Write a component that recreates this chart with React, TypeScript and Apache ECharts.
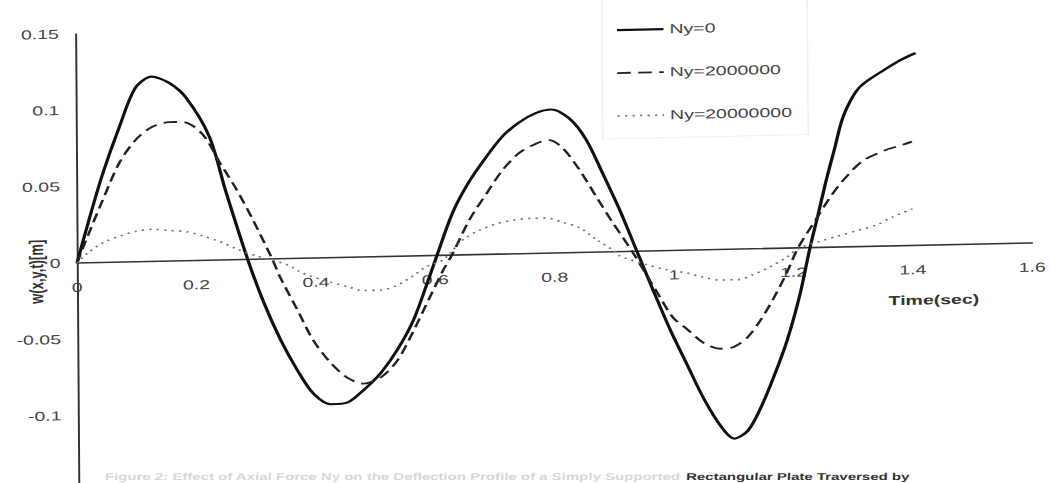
import React, { useEffect, useRef } from "react";
import * as echarts from "echarts";

// Deflection w(x,y,t) at the plate centre versus time for three axial forces Ny
const timeNy0 = [
  0, 0.022, 0.044, 0.072, 0.1, 0.127, 0.155, 0.184, 0.223, 0.25, 0.286, 0.312, 0.34, 0.369,
  0.395, 0.424, 0.452, 0.479, 0.508, 0.536, 0.563, 0.591, 0.603, 0.63, 0.658, 0.687, 0.714,
  0.742, 0.771, 0.796, 0.826, 0.854, 0.881, 0.91, 0.938, 0.965, 0.993, 1.022, 1.049, 1.077,
  1.099, 1.122, 1.144, 1.166, 1.189, 1.211, 1.228, 1.241, 1.256, 1.27, 1.283, 1.298, 1.312,
  1.328, 1.357, 1.384, 1.407,
];
const deflectionNy0 = [
  0, 0.03, 0.058, 0.088, 0.114, 0.121, 0.117, 0.107, 0.081, 0.045, 0, -0.028, -0.053, -0.074,
  -0.089, -0.096, -0.095, -0.087, -0.076, -0.061, -0.042, -0.013, 0, 0.028, 0.048, 0.064, 0.077,
  0.086, 0.092, 0.094, 0.088, 0.074, 0.052, 0.027, 0, -0.026, -0.052, -0.076, -0.098, -0.116,
  -0.124, -0.119, -0.104, -0.084, -0.06, -0.03, 0, 0.02, 0.044, 0.064, 0.083, 0.096, 0.104,
  0.109, 0.116, 0.122, 0.126,
];

const timeNy2e6 = [
  0, 0.022, 0.044, 0.072, 0.1, 0.127, 0.156, 0.178, 0.211, 0.24, 0.268, 0.295, 0.327, 0.34,
  0.369, 0.395, 0.424, 0.452, 0.479, 0.508, 0.536, 0.563, 0.591, 0.613, 0.628, 0.658, 0.687,
  0.714, 0.742, 0.771, 0.792, 0.814, 0.843, 0.871, 0.898, 0.93, 0.977, 0.998, 1.022, 1.049,
  1.077, 1.099, 1.122, 1.144, 1.166, 1.189, 1.208, 1.241, 1.261, 1.283, 1.317, 1.357, 1.384, 1.4,
];
const deflectionNy2e6 = [
  0, 0.021, 0.041, 0.065, 0.08, 0.088, 0.091, 0.091, 0.083, 0.064, 0.046, 0.026, 0, -0.012,
  -0.034, -0.054, -0.069, -0.079, -0.083, -0.079, -0.068, -0.049, -0.027, -0.01, 0, 0.023, 0.04,
  0.055, 0.066, 0.072, 0.074, 0.069, 0.054, 0.036, 0.019, 0, -0.031, -0.044, -0.052, -0.061,
  -0.065, -0.064, -0.058, -0.047, -0.033, -0.016, 0, 0.02, 0.032, 0.043, 0.056, 0.063, 0.066, 0.068,
];

const timeNy2e7 = [
  0, 0.017, 0.044, 0.072, 0.1, 0.127, 0.156, 0.184, 0.211, 0.24, 0.268, 0.302, 0.352, 0.379,
  0.424, 0.452, 0.479, 0.508, 0.536, 0.563, 0.586, 0.613, 0.647, 0.675, 0.704, 0.73, 0.759,
  0.787, 0.814, 0.843, 0.871, 0.898, 0.91, 0.955, 0.982, 1.022, 1.049, 1.077, 1.106, 1.132,
  1.161, 1.189, 1.211, 1.245, 1.273, 1.312, 1.34, 1.367, 1.4,
];
const deflectionNy2e7 = [
  0, 0.006, 0.013, 0.017, 0.02, 0.021, 0.02, 0.019, 0.016, 0.012, 0.007, 0.002, -0.004, -0.01,
  -0.016, -0.019, -0.022, -0.022, -0.019, -0.013, -0.007, -0.003, 0.01, 0.016, 0.02, 0.022, 0.023,
  0.023, 0.02, 0.016, 0.008, 0.001, -0.003, -0.009, -0.012, -0.015, -0.018, -0.02, -0.02, -0.017,
  -0.012, -0.006, 0, 0.004, 0.007, 0.011, 0.014, 0.019, 0.024,
];

const seriesNames = ["Ny=0", "Ny=2000000", "Ny=20000000"];

const xMin = 0;
const xMax = 1.6;
const xStep = 0.2;
const yMin = -0.15;
const yMax = 0.15;
const yStep = 0.05;

const xTitle = "Time(sec)";
const yTitle = "w(x,y,t)[m]";
const captionFaded =
  "Figure 2: Effect of Axial Force Ny on the Deflection Profile of a Simply Supported";
const captionDark = "Rectangular Plate Traversed by";

// line look of each series, shared by the plot and the legend samples
const lineLooks = [
  { color: "#111", width: 2.2, dash: "solid" as any },
  { color: "#222", width: 1.8, dash: [9, 5] },
  { color: "#777", width: 1.6, dash: [1.5, 3.5] },
];

// the drawing sheet is stretched 1.5x sideways and slightly skewed
const SHEET_SCALE_X = 1.5;
const SHEET_SKEW_Y = -0.0315;
const SHEET_SKEW_X = 0.007;

const pairs = (t: number[], v: number[]) => t.map((x, i) => [x, v[i]]);

export default function App() {
  const ref = useRef<HTMLDivElement>(null);

  useEffect(() => {
    if (!ref.current) return;
    const chart = echarts.init(ref.current, null, { renderer: "svg" });
    const font = "'Liberation Sans', Arial, sans-serif";
    const gridTop = 34;
    const gridBottom = 48;
    const innerHeight = 540;
    const plotHeight = innerHeight - gridTop - gridBottom;
    // distance from the bottom of the plot up to the value 0
    const zeroLift = (plotHeight * (0 - yMin)) / (yMax - yMin);
    // keeps the caption level on the page despite the sheet skew
    const captionTurn = SHEET_SKEW_Y;

    const datasets = [
      pairs(timeNy0, deflectionNy0),
      pairs(timeNy2e6, deflectionNy2e6),
      pairs(timeNy2e7, deflectionNy2e7),
    ];

    const legendLeft = 438;
    const legendTop = 41.4;
    const legendStep = 43;
    const legendGraphics: any[] = [
      {
        type: "rect",
        shape: { x: 428, y: 10, width: 137, height: 140 },
        style: { fill: "none", stroke: "#f0f0f0", lineWidth: 1 },
      },
    ];
    seriesNames.forEach((name, i) => {
      const look = lineLooks[i];
      const y = legendTop + i * legendStep;
      legendGraphics.push({
        type: "line",
        shape: { x1: legendLeft, y1: y, x2: legendLeft + 31, y2: y },
        style: {
          stroke: look.color,
          lineWidth: look.width,
          lineDash: Array.isArray(look.dash) ? look.dash : null,
        },
      });
      legendGraphics.push({
        type: "text",
        x: legendLeft + 35,
        y,
        style: {
          text: name,
          fill: "#444",
          font: `13px ${font}`,
          textAlign: "left",
          textVerticalAlign: "middle",
        },
      });
    });

    chart.setOption({
      animation: false,
      backgroundColor: "#ffffff",
      grid: { left: 77, right: 26.3, top: gridTop, bottom: gridBottom, containLabel: false },
      xAxis: {
        type: "value",
        min: xMin,
        max: xMax,
        interval: xStep,
        position: "bottom",
        offset: -zeroLift,
        axisLine: { onZero: false, lineStyle: { color: "#333", width: 1.6 } },
        axisTick: { show: false },
        splitLine: { show: false },
        axisLabel: {
          margin: 18,
          color: "#444",
          fontSize: 13,
          fontFamily: font,
          formatter: (v: number) => String(+v.toFixed(1)),
        },
      },
      yAxis: {
        type: "value",
        min: yMin,
        max: yMax,
        interval: yStep,
        axisLine: { show: true, onZero: false, lineStyle: { color: "#333", width: 1.3 } },
        axisTick: { show: false },
        splitLine: { show: false },
        axisLabel: {
          margin: 11,
          color: "#444",
          fontSize: 13,
          fontFamily: font,
          showMinLabel: false,
          formatter: (v: number) => String(+v.toFixed(2)),
        },
      },
      series: seriesNames.map((name, i) => ({
        name,
        type: "line",
        data: datasets[i],
        smooth: 0.3,
        symbol: "none",
        lineStyle: { color: lineLooks[i].color, width: lineLooks[i].width, type: lineLooks[i].dash },
        itemStyle: { color: lineLooks[i].color },
      })),
      graphic: [
        ...legendGraphics,
        {
          type: "text",
          x: 648,
          y: 318,
          style: {
            text: xTitle,
            fill: "#333",
            font: `bold 13px ${font}`,
            textAlign: "center",
            textVerticalAlign: "middle",
          },
        },
        {
          type: "text",
          x: 50,
          y: 271,
          rotation: Math.PI / 2,
          style: {
            text: yTitle,
            fill: "#333",
            font: `bold 13px ${font}`,
            textAlign: "center",
            textVerticalAlign: "middle",
          },
        },
        {
          type: "text",
          x: 478,
          y: 488.6,
          rotation: captionTurn,
          style: {
            text: captionFaded,
            fill: "#d6d6d6",
            font: `bold 10px ${font}`,
            textAlign: "right",
            textVerticalAlign: "middle",
          },
        },
        {
          type: "text",
          x: 482,
          y: 488.8,
          rotation: captionTurn,
          style: {
            text: captionDark,
            fill: "#333",
            font: `bold 10px ${font}`,
            textAlign: "left",
            textVerticalAlign: "middle",
          },
        },
      ],
    });
    return () => chart.dispose();
  }, []);

  return (
    <div
      style={{
        position: "fixed",
        left: 0,
        top: 0,
        width: 1051,
        height: 483,
        overflow: "hidden",
        background: "#ffffff",
      }}
    >
      <div
        ref={ref}
        style={{
          position: "absolute",
          left: 0,
          top: 0,
          width: 740,
          height: 540,
          transform: `matrix(${SHEET_SCALE_X}, ${SHEET_SKEW_Y}, ${SHEET_SKEW_X}, 1, 0, 0)`,
          transformOrigin: "77px 263px",
        }}
      />
    </div>
  );
}
